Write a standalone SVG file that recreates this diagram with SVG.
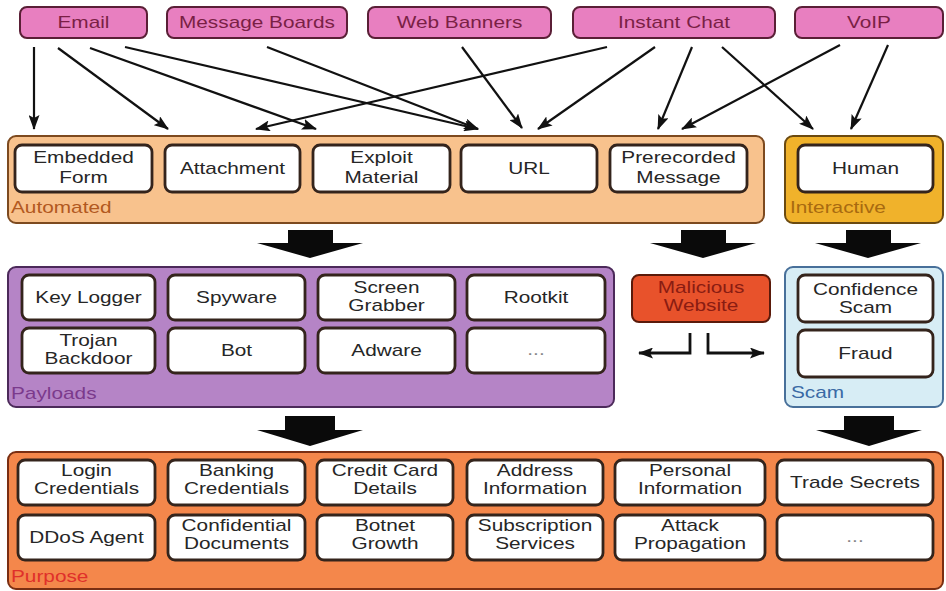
<svg xmlns="http://www.w3.org/2000/svg" width="946" height="591" viewBox="0 0 946 591">
  <style>
    text { font-family: "Liberation Sans", Arial, sans-serif; font-size: 16px; }
    .src rect { fill: #e87fc0; stroke: #5a1f36; stroke-width: 2; }
    .src text { fill: #7a1f45; text-anchor: middle; }
    .box rect { fill: #ffffff; stroke: #34241c; stroke-width: 2.8; }
    .box text { fill: #262626; text-anchor: middle; }
    .box text.dots { fill: #888888; }
    .lbl { text-anchor: start; }
    .conn line, .conn path { stroke: #111111; stroke-width: 2.2; fill: none; }
    .conn path.elbow { stroke-width: 2.8; }
    .block { fill: #0a0a0a; }
  </style>
  <defs>
    <marker id="ah" markerUnits="userSpaceOnUse" markerWidth="15" markerHeight="11" refX="14" refY="5.5" orient="auto">
      <path d="M0,0 L15,5.5 L0,11 L3,5.5 z" fill="#111111"/>
    </marker>
  </defs>

  <rect width="946" height="591" fill="#ffffff"/>

  <!-- source channels -->
  <g id="email" class="src"><rect x="20" y="7" width="127" height="31" rx="7"/><text transform="translate(83.5,28) scale(1.3,1)">Email</text></g>
  <g id="message-boards" class="src"><rect x="167" y="7" width="180" height="31" rx="7"/><text transform="translate(257,28) scale(1.3,1)">Message Boards</text></g>
  <g id="web-banners" class="src"><rect x="368" y="7" width="183" height="31" rx="7"/><text transform="translate(459.5,28) scale(1.3,1)">Web Banners</text></g>
  <g id="instant-chat" class="src"><rect x="573" y="7" width="202" height="31" rx="7"/><text transform="translate(674,28) scale(1.3,1)">Instant Chat</text></g>
  <g id="voip" class="src"><rect x="795" y="7" width="148" height="31" rx="7"/><text transform="translate(869,28) scale(1.3,1)">VoIP</text></g>

  <!-- delivery: automated -->
  <g id="automated">
    <rect x="8" y="136" width="756" height="87" rx="8" fill="#f8c28d" stroke="#7d4a1f" stroke-width="2"/>
    <text class="lbl" fill="#b2591f" transform="translate(11,213) scale(1.3,1)">Automated</text>
  </g>
  <g id="embedded-form" class="box"><rect x="15" y="145" width="137" height="47" rx="7"/><text transform="translate(83.5,163) scale(1.3,1)"><tspan x="0">Embedded</tspan><tspan x="0" dy="20">Form</tspan></text></g>
  <g id="attachment" class="box"><rect x="165" y="145" width="135" height="47" rx="7"/><text transform="translate(232.5,174) scale(1.3,1)">Attachment</text></g>
  <g id="exploit-material" class="box"><rect x="313" y="145" width="137" height="47" rx="7"/><text transform="translate(381.5,163) scale(1.3,1)"><tspan x="0">Exploit</tspan><tspan x="0" dy="20">Material</tspan></text></g>
  <g id="url" class="box"><rect x="461" y="145" width="136" height="47" rx="7"/><text transform="translate(529,174) scale(1.3,1)">URL</text></g>
  <g id="prerecorded-message" class="box"><rect x="610" y="145" width="137" height="47" rx="7"/><text transform="translate(678.5,163) scale(1.3,1)"><tspan x="0">Prerecorded</tspan><tspan x="0" dy="20">Message</tspan></text></g>

  <!-- delivery: interactive -->
  <g id="interactive">
    <rect x="785" y="136" width="158" height="87" rx="8" fill="#f0b22b" stroke="#6b4a10" stroke-width="2"/>
    <text class="lbl" fill="#a86a10" transform="translate(790,213) scale(1.3,1)">Interactive</text>
  </g>
  <g id="human" class="box"><rect x="798" y="145" width="135" height="47" rx="7"/><text transform="translate(865.5,174) scale(1.3,1)">Human</text></g>

  <!-- payloads -->
  <g id="payloads">
    <rect x="8" y="267" width="606" height="140" rx="8" fill="#b584c6" stroke="#4c2a5a" stroke-width="2"/>
    <text class="lbl" fill="#7b3a8c" transform="translate(11,399) scale(1.3,1)">Payloads</text>
  </g>
  <g id="key-logger" class="box"><rect x="22" y="275" width="133" height="45" rx="7"/><text transform="translate(88.5,303) scale(1.3,1)">Key Logger</text></g>
  <g id="spyware" class="box"><rect x="168" y="275" width="137" height="45" rx="7"/><text transform="translate(236.5,303) scale(1.3,1)">Spyware</text></g>
  <g id="screen-grabber" class="box"><rect x="318" y="275" width="137" height="45" rx="7"/><text transform="translate(386.5,293) scale(1.3,1)"><tspan x="0">Screen</tspan><tspan x="0" dy="18">Grabber</tspan></text></g>
  <g id="rootkit" class="box"><rect x="467" y="275" width="138" height="45" rx="7"/><text transform="translate(536,303) scale(1.3,1)">Rootkit</text></g>
  <g id="trojan-backdoor" class="box"><rect x="22" y="328" width="133" height="45" rx="7"/><text transform="translate(88.5,346) scale(1.3,1)"><tspan x="0">Trojan</tspan><tspan x="0" dy="18">Backdoor</tspan></text></g>
  <g id="bot" class="box"><rect x="168" y="328" width="137" height="45" rx="7"/><text transform="translate(236.5,356) scale(1.3,1)">Bot</text></g>
  <g id="adware" class="box"><rect x="318" y="328" width="137" height="45" rx="7"/><text transform="translate(386.5,356) scale(1.3,1)">Adware</text></g>
  <g id="payload-more" class="box"><rect x="467" y="328" width="138" height="45" rx="7"/><text class="dots" transform="translate(536,355) scale(1.3,1)">...</text></g>

  <!-- malicious website -->
  <g id="malicious-website">
    <rect x="632" y="275" width="138" height="47" rx="7" fill="#e8522b" stroke="#5a1a0a" stroke-width="2"/>
    <text fill="#8a1c12" text-anchor="middle" transform="translate(701,293) scale(1.3,1)"><tspan x="0">Malicious</tspan><tspan x="0" dy="18">Website</tspan></text>
  </g>

  <!-- scam -->
  <g id="scam">
    <rect x="785" y="267" width="158" height="140" rx="8" fill="#d7edf5" stroke="#48709a" stroke-width="2"/>
    <text class="lbl" fill="#3a6aa5" transform="translate(791,398) scale(1.3,1)">Scam</text>
  </g>
  <g id="confidence-scam" class="box"><rect x="798" y="275" width="135" height="47" rx="7"/><text transform="translate(865.5,295) scale(1.3,1)"><tspan x="0">Confidence</tspan><tspan x="0" dy="18">Scam</tspan></text></g>
  <g id="fraud" class="box"><rect x="798" y="330" width="135" height="47" rx="7"/><text transform="translate(865.5,359) scale(1.3,1)">Fraud</text></g>

  <!-- purpose -->
  <g id="purpose">
    <rect x="8" y="452" width="935" height="137" rx="8" fill="#f4874b" stroke="#7a2e12" stroke-width="2"/>
    <text class="lbl" fill="#e0302a" transform="translate(11,582) scale(1.3,1)">Purpose</text>
  </g>
  <g id="login-credentials" class="box"><rect x="18" y="460" width="137" height="45" rx="7"/><text transform="translate(86.5,476) scale(1.3,1)"><tspan x="0">Login</tspan><tspan x="0" dy="18">Credentials</tspan></text></g>
  <g id="banking-credentials" class="box"><rect x="168" y="460" width="137" height="45" rx="7"/><text transform="translate(236.5,476) scale(1.3,1)"><tspan x="0">Banking</tspan><tspan x="0" dy="18">Credentials</tspan></text></g>
  <g id="credit-card-details" class="box"><rect x="317" y="460" width="136" height="45" rx="7"/><text transform="translate(385,476) scale(1.3,1)"><tspan x="0">Credit Card</tspan><tspan x="0" dy="18">Details</tspan></text></g>
  <g id="address-information" class="box"><rect x="467" y="460" width="136" height="45" rx="7"/><text transform="translate(535,476) scale(1.3,1)"><tspan x="0">Address</tspan><tspan x="0" dy="18">Information</tspan></text></g>
  <g id="personal-information" class="box"><rect x="615" y="460" width="150" height="45" rx="7"/><text transform="translate(690,476) scale(1.3,1)"><tspan x="0">Personal</tspan><tspan x="0" dy="18">Information</tspan></text></g>
  <g id="trade-secrets" class="box"><rect x="777" y="460" width="156" height="45" rx="7"/><text transform="translate(855,488) scale(1.3,1)">Trade Secrets</text></g>
  <g id="ddos-agent" class="box"><rect x="18" y="515" width="137" height="45" rx="7"/><text transform="translate(86.5,543) scale(1.3,1)">DDoS Agent</text></g>
  <g id="confidential-documents" class="box"><rect x="168" y="515" width="137" height="45" rx="7"/><text transform="translate(236.5,531) scale(1.3,1)"><tspan x="0">Confidential</tspan><tspan x="0" dy="18">Documents</tspan></text></g>
  <g id="botnet-growth" class="box"><rect x="317" y="515" width="136" height="45" rx="7"/><text transform="translate(385,531) scale(1.3,1)"><tspan x="0">Botnet</tspan><tspan x="0" dy="18">Growth</tspan></text></g>
  <g id="subscription-services" class="box"><rect x="467" y="515" width="136" height="45" rx="7"/><text transform="translate(535,531) scale(1.3,1)"><tspan x="0">Subscription</tspan><tspan x="0" dy="18">Services</tspan></text></g>
  <g id="attack-propagation" class="box"><rect x="615" y="515" width="150" height="45" rx="7"/><text transform="translate(690,531) scale(1.3,1)"><tspan x="0">Attack</tspan><tspan x="0" dy="18">Propagation</tspan></text></g>
  <g id="purpose-more" class="box"><rect x="777" y="515" width="156" height="45" rx="7"/><text class="dots" transform="translate(855,542) scale(1.3,1)">...</text></g>

  <!-- connectors -->
  <g id="connectors" class="conn">
    <line x1="34" y1="47" x2="34" y2="129" marker-end="url(#ah)"/>
    <line x1="58" y1="48" x2="168" y2="129" marker-end="url(#ah)"/>
    <line x1="90" y1="48" x2="316" y2="129" marker-end="url(#ah)"/>
    <line x1="125" y1="47" x2="478" y2="129" marker-end="url(#ah)"/>
    <line x1="267" y1="47" x2="478" y2="129" marker-end="url(#ah)"/>
    <line x1="462" y1="47" x2="522" y2="128" marker-end="url(#ah)"/>
    <line x1="607" y1="47" x2="256" y2="129" marker-end="url(#ah)"/>
    <line x1="655" y1="47" x2="538" y2="129" marker-end="url(#ah)"/>
    <line x1="692" y1="47" x2="658" y2="129" marker-end="url(#ah)"/>
    <line x1="722" y1="47" x2="813" y2="129" marker-end="url(#ah)"/>
    <line x1="840" y1="45" x2="682" y2="129" marker-end="url(#ah)"/>
    <line x1="888" y1="45" x2="851" y2="129" marker-end="url(#ah)"/>
    <path class="elbow" d="M690,333 V353 H639" marker-end="url(#ah)"/>
    <path class="elbow" d="M708,333 V353 H764" marker-end="url(#ah)"/>
    <polygon class="block" points="288,230 333,230 333,243 363,243 310,258 257,243 288,243"/>
    <polygon class="block" points="681,230 726,230 726,243 756,243 703,258 650,243 681,243"/>
    <polygon class="block" points="846,230 891,230 891,243 921,243 868,258 815,243 846,243"/>
    <polygon class="block" points="285,416 335,416 335,430 363,430 310,446 257,430 285,430"/>
    <polygon class="block" points="844,416 894,416 894,430 922,430 869,446 816,430 844,430"/>
  </g>
</svg>
